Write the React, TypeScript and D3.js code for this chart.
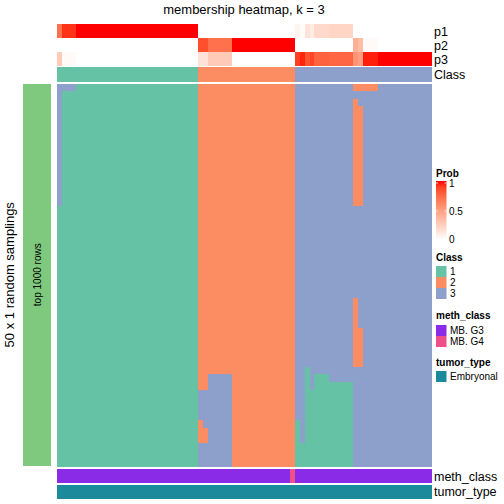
import React from "react";
import * as d3 from "d3";

// ---- data ----
const classNames = ["1", "2", "3"];
const classColors = ["#66C2A5", "#FC8D62", "#8DA0CB"];

const p1 = [
  0.72, 0.93, 0.93, 0.93, 1, 1, 1, 1, 1, 1, 1, 1, 1, 1, 1, 1, 1, 1, 1, 1, 1, 1, 1, 1, 1, 1, 1, 1, 1,
  0, 0, 0, 0, 0, 0, 0, 0, 0, 0, 0, 0, 0, 0, 0, 0, 0, 0, 0, 0,
  0.06, 0.02, 0.15, 0.1, 0.2, 0.2, 0.2, 0.22, 0.22, 0.22, 0.22, 0.22, 0, 0, 0, 0, 0, 0, 0, 0, 0, 0, 0, 0, 0, 0, 0, 0,
];
const p2 = [
  0, 0, 0, 0, 0, 0, 0, 0, 0, 0, 0, 0, 0, 0, 0, 0, 0, 0, 0, 0, 0, 0, 0, 0, 0, 0, 0, 0, 0,
  0.85, 0.85, 0.72, 0.72, 0.72, 0.72, 0.72, 1, 1, 1, 1, 1, 1, 1, 1, 1, 1, 1, 1, 1,
  0, 0, 0, 0, 0, 0, 0, 0, 0, 0, 0, 0, 0.42, 0.35, 0.03, 0.03, 0.03, 0, 0, 0, 0, 0, 0, 0, 0, 0, 0, 0,
];
const p3 = [
  0.28, 0.03, 0.03, 0.03, 0, 0, 0, 0, 0, 0, 0, 0, 0, 0, 0, 0, 0, 0, 0, 0, 0, 0, 0, 0, 0, 0, 0, 0, 0,
  0.15, 0.15, 0.28, 0.28, 0.28, 0.28, 0.28, 0, 0, 0, 0, 0, 0, 0, 0, 0, 0, 0, 0, 0,
  0.9, 0.96, 0.83, 0.88, 0.78, 0.78, 0.78, 0.76, 0.76, 0.76, 0.76, 0.76, 0.55, 0.5, 0.97, 0.97, 0.97, 1, 1, 1, 1, 1, 1, 1, 1, 1, 1, 1,
];
const probRows = [
  { name: "p1", values: p1 },
  { name: "p2", values: p2 },
  { name: "p3", values: p3 },
];

const sampleClass =
  "11111111111111111111111111111" + "22222222222222222222" + "3333333333333333333333333333";

const methClassNames = ["MB. G3", "MB. G4"];
const methClassColors = ["#8A2BE8", "#F0508A"];
const methClass =
  "00000000000000000000000000000" + "00000000000000000001" + "0000000000000000000000000000";

const tumorTypeNames = ["Embryonal"];
const tumorTypeColors = ["#1B8A9A"];

// 50 random samplings x 77 samples (class labels)
const samplings = [
  "33331111111111111111111111111 22222222222222222222 3333333333332222233333333333",
  "31111111111111111111111111111 22222222222222222222 3333333333333333333333333333",
  "31111111111111111111111111111 22222222222222222222 3333333333332333333333333333",
  "31111111111111111111111111111 22222222222222222222 3333333333332233333333333333",
  "31111111111111111111111111111 22222222222222222222 3333333333332233333333333333",
  "31111111111111111111111111111 22222222222222222222 3333333333332233333333333333",
  "31111111111111111111111111111 22222222222222222222 3333333333332233333333333333",
  "31111111111111111111111111111 22222222222222222222 3333333333332233333333333333",
  "31111111111111111111111111111 22222222222222222222 3333333333332233333333333333",
  "31111111111111111111111111111 22222222222222222222 3333333333332233333333333333",
  "31111111111111111111111111111 22222222222222222222 3333333333332233333333333333",
  "31111111111111111111111111111 22222222222222222222 3333333333332233333333333333",
  "31111111111111111111111111111 22222222222222222222 3333333333332233333333333333",
  "31111111111111111111111111111 22222222222222222222 3333333333332233333333333333",
  "31111111111111111111111111111 22222222222222222222 3333333333332233333333333333",
  "31111111111111111111111111111 22222222222222222222 3333333333332233333333333333",
  "11111111111111111111111111111 22222222222222222222 3333333333333333333333333333",
  "11111111111111111111111111111 22222222222222222222 3333333333333333333333333333",
  "11111111111111111111111111111 22222222222222222222 3333333333333333333333333333",
  "11111111111111111111111111111 22222222222222222222 3333333333333333333333333333",
  "11111111111111111111111111111 22222222222222222222 3333333333333333333333333333",
  "11111111111111111111111111111 22222222222222222222 3333333333333333333333333333",
  "11111111111111111111111111111 22222222222222222222 3333333333333333333333333333",
  "11111111111111111111111111111 22222222222222222222 3333333333333333333333333333",
  "11111111111111111111111111111 22222222222222222222 3333333333333333333333333333",
  "11111111111111111111111111111 22222222222222222222 3333333333333333333333333333",
  "11111111111111111111111111111 22222222222222222222 3333333333333333333333333333",
  "11111111111111111111111111111 22222222222222222222 3333333333333333333333333333",
  "11111111111111111111111111111 22222222222222222222 3333333333332333333333333333",
  "11111111111111111111111111111 22222222222222222222 3333333333332333333333333333",
  "11111111111111111111111111111 22222222222222222222 3333333333332333333333333333",
  "11111111111111111111111111111 22222222222222222222 3333333333332333333333333333",
  "11111111111111111111111111111 22222222222222222222 3333333333332233333333333333",
  "11111111111111111111111111111 22222222222222222222 3333333333332233333333333333",
  "11111111111111111111111111111 22222222222222222222 3333333333332233333333333333",
  "11111111111111111111111111111 22222222222222222222 3333333333332233333333333333",
  "11111111111111111111111111111 22222222222222222222 3333333333332233333333333333",
  "11111111111111111111111111111 22222222222222222222 3313333333333333333333333333",
  "11111111111111111111111111111 22333332222222222222 3313111333333333333333333333",
  "11111111111111111111111111111 22333332222222222222 3313111111113333333333333333",
  "11111111111111111111111111111 33333332222222222222 3311111111113333333333333333",
  "11111111111111111111111111111 33333332222222222222 3311111111113333333333333333",
  "11111111111111111111111111111 33333332222222222222 3311111111113333333333333333",
  "11111111111111111111111111111 33333332222222222222 3311111111113333333333333333",
  "11111111111111111111111111111 23333332222222222222 1311111111113333333333333333",
  "11111111111111111111111111111 22333332222222222222 1311111111113333333333333333",
  "11111111111111111111111111111 22333332222222222222 1311111111113333333333333333",
  "11111111111111111111111111111 33333332222222222222 1111111111113333333333333333",
  "11111111111111111111111111111 33333332222222222222 1111111111113333333333333333",
  "11111111111111111111111111111 33333332222222222222 1111111111113333333333333333",
].map((s) => s.replace(/ /g, ""));

const titleText = "membership heatmap, k = 3";
const rowTitle = "50 x 1 random samplings";
const rowSliceLabel = "top 1000 rows";
const probTicks = [0, 0.5, 1];

// ---- layout ----
const FONT = "'Liberation Sans', Arial, Helvetica, sans-serif";
const X0 = 57;
const X1 = 431;
const nCols = sampleClass.length;

export default function App() {
  const cols = d3.range(nCols);
  const x = d3.scaleBand<number>().domain(cols).range([X0, X1]).padding(0);
  const topRows = d3
    .scaleBand<string>()
    .domain(probRows.map((r) => r.name))
    .range([24, 66])
    .padding(0);
  const rows = d3.range(samplings.length);
  const y = d3.scaleBand<number>().domain(rows).range([83.5, 466]).padding(0);
  const probColor = d3
    .scaleLinear<string>()
    .domain([0, 1])
    .range(["#FFFFFF", "#FF0000"])
    .interpolate(d3.interpolateLab);
  const clsColor = d3.scaleOrdinal<string, string>().domain(classNames).range(classColors);
  const methColor = d3.scaleOrdinal<string, string>().domain(methClassNames).range(methClassColors);
  const bw = x.bandwidth();
  const w = bw + 0.5;

  const legX = 436;
  const probBarTop = 181;
  const probBarBot = 240;
  const probY = d3.scaleLinear().domain([0, 1]).range([probBarBot - 1, probBarTop + 2]);

  return (
    <svg
      width={504}
      height={504}
      style={{ position: "absolute", left: 0, top: 0, background: "#fff" }}
      fontFamily={FONT}
    >
      <defs>
        <linearGradient id="probGrad" x1="0" y1="1" x2="0" y2="0">
          {d3.range(0, 1.001, 0.1).map((t) => (
            <stop key={t} offset={`${t * 100}%`} stopColor={probColor(t)} />
          ))}
        </linearGradient>
      </defs>
      <text x={244} y={14} textAnchor="middle" fontSize={13}>
        {titleText}
      </text>

      <g shapeRendering="crispEdges">
        {/* probability rows */}
        {probRows.map((r) => (
          <g key={r.name}>
            {r.values.map((v, i) => (
              <rect
                key={i}
                x={x(i)!}
                y={topRows(r.name)!}
                width={w}
                height={topRows.bandwidth()}
                fill={probColor(v)}
              />
            ))}
          </g>
        ))}

        {/* class row */}
        {cols.map((i) => (
          <rect key={i} x={x(i)!} y={67} width={w} height={14.7} fill={clsColor(sampleClass[i])} />
        ))}

        {/* main heatmap */}
        {samplings.map((s, r) =>
          cols.map((i) => (
            <rect
              key={`${r}-${i}`}
              x={x(i)!}
              y={y(r)!}
              width={w}
              height={y.bandwidth() + 0.5}
              fill={clsColor(s[i])}
            />
          ))
        )}

        {/* row slice bar */}
        <rect x={23} y={83.5} width={28} height={382.5} fill="#7FC97F" />

        {/* bottom annotations */}
        {cols.map((i) => (
          <rect
            key={`m${i}`}
            x={x(i)!}
            y={469}
            width={w}
            height={14}
            fill={methColor(methClassNames[+methClass[i]])}
          />
        ))}
        {cols.map((i) => (
          <rect key={`t${i}`} x={x(i)!} y={484.5} width={w} height={14.5} fill={tumorTypeColors[0]} />
        ))}
      </g>

      {probRows.map((r) => (
        <text key={r.name} x={434} y={topRows(r.name)! + topRows.bandwidth() / 2 + 4.5} fontSize={12.5}>
          {r.name}
        </text>
      ))}
      <text x={434} y={79} fontSize={12.5}>
        Class
      </text>
      <text
        transform={`translate(40.5, ${(83.5 + 466) / 2}) rotate(-90)`}
        textAnchor="middle"
        fontSize={10}
      >
        {rowSliceLabel}
      </text>
      <text transform={`translate(14, ${(83.5 + 466) / 2}) rotate(-90)`} textAnchor="middle" fontSize={13}>
        {rowTitle}
      </text>
      <text x={434} y={481} fontSize={12.5}>
        meth_class
      </text>
      <text x={434} y={496} fontSize={12.5}>
        tumor_type
      </text>

      {/* legends */}
      <text x={legX} y={176.5} fontSize={10} fontWeight="bold">
        Prob
      </text>
      <rect x={legX} y={probBarTop} width={10.5} height={probBarBot - probBarTop} fill="url(#probGrad)" />
      {probTicks.map((t) => (
        <g key={t}>
          <line x1={legX} x2={legX + 2} y1={probY(t)} y2={probY(t)} stroke="#fff" strokeWidth={0.8} />
          <line x1={legX + 8.5} x2={legX + 10.5} y1={probY(t)} y2={probY(t)} stroke="#fff" strokeWidth={0.8} />
          <text x={legX + 13} y={probY(t) + 3.5} fontSize={10}>
            {t}
          </text>
        </g>
      ))}

      <text x={legX} y={260.5} fontSize={10} fontWeight="bold">
        Class
      </text>
      {classNames.map((c, i) => (
        <g key={c}>
          <rect x={legX} y={266 + i * 11} width={10.5} height={11} fill={classColors[i]} />
          <text x={legX + 14} y={266 + i * 11 + 9} fontSize={10}>
            {c}
          </text>
        </g>
      ))}

      <text x={legX} y={318.5} fontSize={10} fontWeight="bold">
        meth_class
      </text>
      {methClassNames.map((c, i) => (
        <g key={c}>
          <rect x={legX} y={325 + i * 11} width={10.5} height={11} fill={methClassColors[i]} />
          <text x={legX + 14} y={325 + i * 11 + 9} fontSize={10}>
            {c}
          </text>
        </g>
      ))}

      <text x={legX} y={365.5} fontSize={10} fontWeight="bold">
        tumor_type
      </text>
      {tumorTypeNames.map((c, i) => (
        <g key={c}>
          <rect x={legX} y={371 + i * 11} width={10.5} height={11} fill={tumorTypeColors[i]} />
          <text x={legX + 14} y={371 + i * 11 + 9} fontSize={10}>
            {c}
          </text>
        </g>
      ))}
    </svg>
  );
}
